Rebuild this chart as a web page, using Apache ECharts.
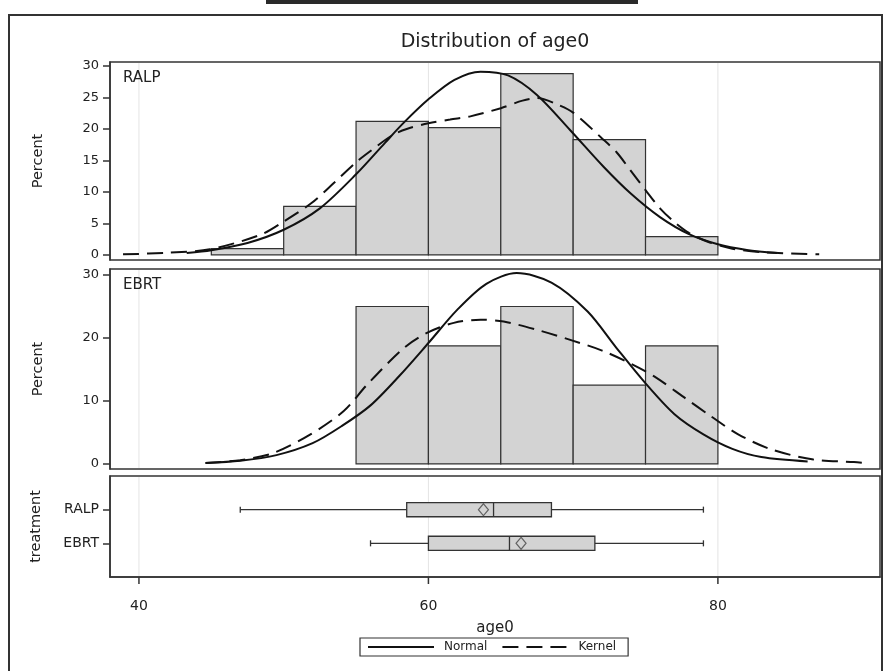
<!DOCTYPE html>
<html><head><meta charset="utf-8">
<script src="https://cdn.jsdelivr.net/npm/echarts@6/dist/echarts.min.js"></script>
<style>html,body{margin:0;padding:0;background:#fff}#c{width:884px;height:671px}</style>
</head><body><div id="c"></div>
<script>
// ---- data ----
const binEdges = [45, 50, 55, 60, 65, 70, 75, 80];
const ralpPct = [1.0, 7.7, 21.2, 20.2, 28.8, 18.3, 2.9];
const ebrtPct = [0, 0, 25.0, 18.75, 25.0, 12.5, 18.75];

const ralpNormal = [[43.3,0.3],[45,0.75],[47.5,1.9],[50,4.0],[52.5,7.4],[55,12.8],[57,17.8],[58.3,21.0],[60,24.7],[61.8,27.8],[63.6,29.1],[65.5,28.5],[67.5,25.4],[69.8,19.8],[72.1,14.0],[74,9.7],[76,6.0],[78,3.3],[80,1.7],[82,0.8],[84.1,0.3]];
const ralpKernel = [[38.9,0.1],[42,0.35],[44.9,0.9],[48.4,3.2],[50,5.3],[51.9,8.2],[53.5,11.5],[55,14.7],[56,16.5],[57.5,19.0],[58.5,20.0],[60,20.9],[61.5,21.5],[62.9,22.0],[65,23.3],[66.5,24.5],[67.5,24.9],[68.9,23.9],[70,22.6],[72,18.5],[73,16.3],[74,13.3],[75,10.3],[76,7.4],[77,5.2],[78,3.5],[79.3,2.1],[81,1.0],[83.2,0.4],[87.0,0.1]];
const ebrtNormal = [[44.6,0.15],[47,0.5],[49.5,1.4],[52,3.3],[54,6.0],[56,9.3],[58,14.0],[60,19.2],[62,24.5],[64,28.6],[66.1,30.3],[68.5,28.8],[71,24.2],[73,18.4],[75,12.8],[77,7.9],[79,4.7],[81,2.4],[83,1.1],[86.2,0.4]];
const ebrtKernel = [[44.6,0.15],[47.0,0.6],[49.3,1.75],[51.85,4.7],[54.15,8.4],[55.77,12.6],[58.3,18.4],[59.9,20.8],[61.75,22.4],[63.6,22.9],[65.2,22.6],[67.5,21.3],[69.8,19.7],[72,18.0],[74,15.9],[75.6,13.9],[77.65,10.6],[79.5,7.6],[81.4,4.7],[83.7,2.3],[86.6,0.7],[89.4,0.3],[90.3,0.1]];

const treatments = ['RALP', 'EBRT'];
const boxMin = [47.0, 56.0];
const boxQ1 = [58.5, 60.0];
const boxMedian = [64.5, 65.6];
const boxQ3 = [68.5, 71.5];
const boxMax = [79.0, 79.0];
const boxMean = [63.8, 66.4];

const xTicks = [40, 60, 80];
const pctTicksTop = [0, 5, 10, 15, 20, 25, 30];
const pctTicksMid = [0, 10, 20, 30];

// ---- build ----
const FONT = 'DejaVu Sans';
const TXT = '#222';
const LINE = '#333';

function histData(pcts) {
  return binEdges.slice(0, -1).map((lo, i) => [lo, binEdges[i + 1], pcts[i]]).filter(d => d[2] > 0);
}
function histItem(params, api) {
  const lo = api.value(0), hi = api.value(1), v = api.value(2);
  const p0 = api.coord([lo, 0]), p1 = api.coord([hi, v]);
  return { type: 'rect', shape: { x: p0[0], y: p1[1], width: p1[0] - p0[0], height: p0[1] - p1[1] },
    style: { fill: '#d3d3d3', stroke: LINE, lineWidth: 1.2 } };
}
function boxItem(params, api) {
  const y = api.value(0);
  const mn = api.value(1), q1 = api.value(2), md = api.value(3), q3 = api.value(4), mx = api.value(5);
  const h = api.size([0, 0.42])[1];
  const cap = api.size([0, 0.18])[1];
  const pMin = api.coord([mn, y]), pQ1 = api.coord([q1, y]), pMd = api.coord([md, y]), pQ3 = api.coord([q3, y]), pMax = api.coord([mx, y]);
  const cy = pMin[1];
  const st = { stroke: LINE, lineWidth: 1.3, fill: null };
  return { type: 'group', children: [
    { type: 'line', shape: { x1: pMin[0], y1: cy, x2: pQ1[0], y2: cy }, style: st },
    { type: 'line', shape: { x1: pQ3[0], y1: cy, x2: pMax[0], y2: cy }, style: st },
    { type: 'line', shape: { x1: pMin[0], y1: cy - cap / 2, x2: pMin[0], y2: cy + cap / 2 }, style: st },
    { type: 'line', shape: { x1: pMax[0], y1: cy - cap / 2, x2: pMax[0], y2: cy + cap / 2 }, style: st },
    { type: 'rect', shape: { x: pQ1[0], y: cy - h / 2, width: pQ3[0] - pQ1[0], height: h }, style: { fill: '#d3d3d3', stroke: LINE, lineWidth: 1.3 } },
    { type: 'line', shape: { x1: pMd[0], y1: cy - h / 2, x2: pMd[0], y2: cy + h / 2 }, style: st }
  ] };
}
// light vertical grid lines at the x ticks (and, for the bottom panel, the outside tick marks)
function gridLines(idx, yRef, withTicks) {
  return { type: 'custom', xAxisIndex: idx, yAxisIndex: idx, silent: true, z: 0, clip: false,
    encode: { x: 0 },
    data: xTicks.map(v => [v]),
    renderItem: function (params, api) {
      const cs = params.coordSys;
      const px = api.coord([api.value(0), yRef])[0];
      const kids = [{ type: 'line', shape: { x1: px, y1: cs.y + 1, x2: px, y2: cs.y + cs.height - 1 },
        style: { stroke: '#e4e4e4', lineWidth: 1 } }];
      if (withTicks) kids.push({ type: 'line', shape: { x1: px, y1: cs.y + cs.height, x2: px, y2: cs.y + cs.height + 7 },
        style: { stroke: LINE, lineWidth: 1.5 } });
      return { type: 'group', children: kids };
    } };
}
const curveSolid = { color: '#111', width: 2, type: 'solid' };
const curveDash = { color: '#111', width: 2, type: [16, 8] };
function curve(name, data, idx, style) {
  return { type: 'line', name, data, xAxisIndex: idx, yAxisIndex: idx, smooth: 0.3,
    symbol: 'none', showSymbol: false, lineStyle: style, itemStyle: { color: '#111' }, z: 5, silent: true };
}

const xBase = { type: 'value', min: 38, max: 91.2, splitLine: { show: false } };
const hiddenX = Object.assign({}, xBase, { axisLine: { show: false }, axisTick: { show: false }, axisLabel: { show: false } });
function pctAxis(idx, min, max, ticks) {
  return { type: 'value', gridIndex: idx, min, max,
    name: 'Percent', nameLocation: 'middle', nameGap: 64, nameRotate: 90,
    nameTextStyle: { fontFamily: FONT, fontSize: 14.5, color: TXT },
    axisLine: { show: true, onZero: false, lineStyle: { color: LINE, width: 1.5 } },
    axisTick: { show: true, length: 7, customValues: ticks, lineStyle: { color: LINE, width: 1.5 } },
    axisLabel: { customValues: ticks, margin: 11, fontFamily: FONT, fontSize: 13, color: TXT },
    splitLine: { show: false } };
}

const chart = echarts.init(document.getElementById('c'), null, { renderer: 'canvas' });
chart.setOption({
  animation: false,
  backgroundColor: '#fff',
  grid: [
    { left: 110, top: 62, width: 770, height: 198, show: true, borderColor: LINE, borderWidth: 1.5, backgroundColor: 'transparent' },
    { left: 110, top: 269, width: 770, height: 200, show: true, borderColor: LINE, borderWidth: 1.5, backgroundColor: 'transparent' },
    { left: 110, top: 476, width: 770, height: 101, show: true, borderColor: LINE, borderWidth: 1.5, backgroundColor: 'transparent' }
  ],
  xAxis: [
    Object.assign({ gridIndex: 0 }, hiddenX),
    Object.assign({ gridIndex: 1 }, hiddenX),
    Object.assign({ gridIndex: 2 }, xBase, {
      position: 'bottom',
      name: 'age0', nameLocation: 'middle', nameGap: 44,
      nameTextStyle: { fontFamily: FONT, fontSize: 15, color: TXT },
      axisLine: { show: true, onZero: false, lineStyle: { color: LINE, width: 1.5 } },
      axisTick: { show: false },
      axisLabel: { customValues: xTicks, margin: 22, fontFamily: FONT, fontSize: 14, color: TXT }
    })
  ],
  yAxis: [
    pctAxis(0, -0.8, 30.63, pctTicksTop),
    pctAxis(1, -0.8, 30.95, pctTicksMid),
    { type: 'value', gridIndex: 2, min: 0, max: 3, inverse: true,
      name: 'treatment', nameLocation: 'middle', nameGap: 66, nameRotate: 90,
      nameTextStyle: { fontFamily: FONT, fontSize: 14.5, color: TXT },
      axisLine: { show: true, onZero: false, lineStyle: { color: LINE, width: 1.5 } },
      axisTick: { show: true, length: 7, customValues: [1, 2], lineStyle: { color: LINE, width: 1.5 } },
      axisLabel: { customValues: [1, 2], margin: 11, fontFamily: FONT, fontSize: 14, color: TXT,
        formatter: v => treatments[Math.round(v) - 1] || '' },
      splitLine: { show: false } }
  ],
  legend: {
    data: ['Normal', 'Kernel'], left: 360, top: 638, orient: 'horizontal',
    itemWidth: 66, itemHeight: 12, itemGap: 14, padding: [3, 12, 3, 7],
    borderColor: LINE, borderWidth: 1.2, borderRadius: 0,
    itemStyle: { opacity: 0 },
    textStyle: { fontFamily: FONT, fontSize: 12, color: TXT, padding: [0, 0, 0, 5] }
  },
  graphic: [
    { type: 'rect', shape: { x: 266, y: 0, width: 372, height: 4 }, style: { fill: '#2a2a2a' }, silent: true },
    { type: 'rect', shape: { x: 9, y: 15, width: 873, height: 680 }, style: { fill: null, stroke: LINE, lineWidth: 2 }, silent: true },
    { type: 'text', x: 495, y: 42, style: { text: 'Distribution of age0', font: '19px "DejaVu Sans"', fill: TXT, align: 'center', verticalAlign: 'middle' }, silent: true },
    { type: 'text', x: 123, y: 78.5, style: { text: 'RALP', font: '15px "DejaVu Sans"', fill: TXT, align: 'left', verticalAlign: 'middle' }, silent: true, z: 10 },
    { type: 'text', x: 123, y: 285.5, style: { text: 'EBRT', font: '15px "DejaVu Sans"', fill: TXT, align: 'left', verticalAlign: 'middle' }, silent: true, z: 10 }
  ],
  series: [
    gridLines(0, 0, false), gridLines(1, 0, false), gridLines(2, 1, true),
    { type: 'custom', xAxisIndex: 0, yAxisIndex: 0, renderItem: histItem, data: histData(ralpPct), z: 2, silent: true },
    { type: 'custom', xAxisIndex: 1, yAxisIndex: 1, renderItem: histItem, data: histData(ebrtPct), z: 2, silent: true },
    curve('Normal', ralpNormal, 0, curveSolid),
    curve('Kernel', ralpKernel, 0, curveDash),
    curve('Normal', ebrtNormal, 1, curveSolid),
    curve('Kernel', ebrtKernel, 1, curveDash),
    { type: 'custom', xAxisIndex: 2, yAxisIndex: 2, renderItem: boxItem, silent: true, z: 3,
      encode: { x: [1, 2, 3, 4, 5], y: 0 },
      data: treatments.map((t, i) => [i + 1, boxMin[i], boxQ1[i], boxMedian[i], boxQ3[i], boxMax[i]]) },
    { type: 'scatter', xAxisIndex: 2, yAxisIndex: 2, symbol: 'diamond', symbolSize: [10, 12], silent: true, z: 4,
      itemStyle: { color: 'rgba(0,0,0,0)', borderColor: '#444', borderWidth: 1.2 },
      data: treatments.map((t, i) => [boxMean[i], i + 1]) }
  ]
});
</script></body></html>
